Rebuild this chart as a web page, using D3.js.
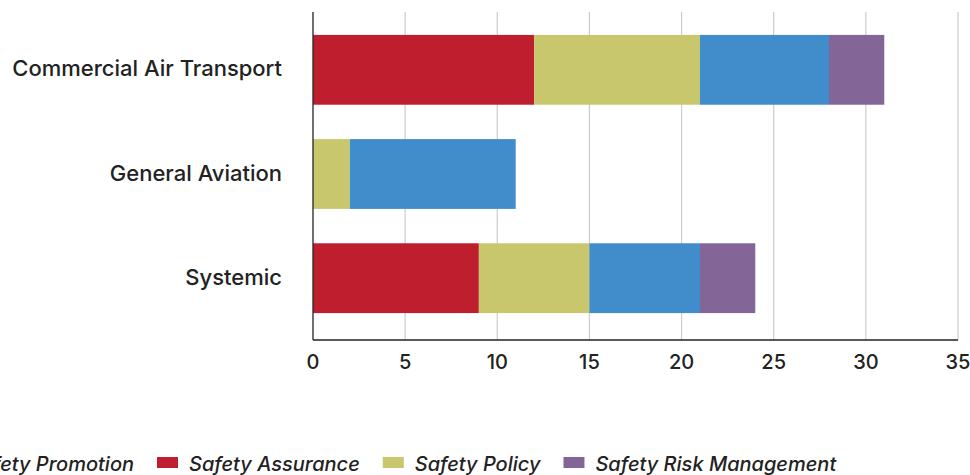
<!DOCTYPE html>
<html>
<head>
<meta charset="utf-8">
<script src="https://cdn.jsdelivr.net/npm/d3@7"></script>
<style>
  body { margin: 0; background: #fff; }
  text { font-family: Inter, "Noto Sans", sans-serif; font-weight: 500; }
</style>
</head>
<body>
<script>
const width = 970, height = 475

const categories = ["Commercial Air Transport", "General Aviation", "Systemic"]
const stackKeys = ["Safety Assurance", "Safety Policy", "Safety Promotion", "Safety Risk Management"]
const legendKeys = ["Safety Promotion", "Safety Assurance", "Safety Policy", "Safety Risk Management"]
const safetyAssurance = [12, 0, 9]
const safetyPolicy = [9, 2, 6]
const safetyPromotion = [7, 9, 6]
const safetyRiskManagement = [3, 0, 3]
const xTicks = [0, 5, 10, 15, 20, 25, 30, 35]

const colors = {
    "Safety Assurance": "#be1e2d",
    "Safety Policy": "#c8c76d",
    "Safety Promotion": "#418dcb",
    "Safety Risk Management": "#836597"
}

// build table for d3.stack
const table = categories.map((c, i) => ({
    category: c,
    "Safety Assurance": safetyAssurance[i],
    "Safety Policy": safetyPolicy[i],
    "Safety Promotion": safetyPromotion[i],
    "Safety Risk Management": safetyRiskManagement[i]
}))

const series = d3.stack().keys(stackKeys)(table)

let svg = d3.select("body")
    .append("svg")
    .attr("width", width)
    .attr("height", height)

const plotTop = 12, axisY = 340

const x = d3.scaleLinear().domain([0, 35]).range([313, 958])
const y = d3.scaleBand().domain(categories).range([plotTop, 336])
    .paddingInner(0.33).paddingOuter(0.22)

// grid
svg.append("g")
    .selectAll("line")
    .data(xTicks.slice(1))
    .join("line")
    .attr("x1", d => x(d)).attr("x2", d => x(d))
    .attr("y1", plotTop).attr("y2", axisY)
    .attr("stroke", "#cccccc")
    .attr("stroke-width", 1.2)

// bars
svg.append("g")
    .selectAll("g")
    .data(series)
    .join("g")
    .attr("fill", d => colors[d.key])
    .selectAll("rect")
    .data(d => d)
    .join("rect")
    .attr("x", d => x(d[0]))
    .attr("y", d => y(d.data.category))
    .attr("width", d => x(d[1]) - x(d[0]))
    .attr("height", y.bandwidth())

// axes lines
svg.append("line")
    .attr("x1", x(0)).attr("x2", x(0))
    .attr("y1", plotTop).attr("y2", axisY)
    .attr("stroke", "#222").attr("stroke-width", 1.3)
svg.append("line")
    .attr("x1", x(0)).attr("x2", x(35))
    .attr("y1", axisY).attr("y2", axisY)
    .attr("stroke", "#222").attr("stroke-width", 1.3)

// tick labels
svg.append("g")
    .selectAll("text")
    .data(xTicks)
    .join("text")
    .attr("x", d => x(d))
    .attr("y", 369)
    .attr("text-anchor", "middle")
    .attr("fill", "#222")
    .attr("font-size", 20)
    .text(d => d)

// category labels
svg.append("g")
    .selectAll("text")
    .data(categories)
    .join("text")
    .attr("x", 282)
    .attr("y", d => y(d) + y.bandwidth() / 2)
    .attr("dy", "0.3em")
    .attr("text-anchor", "end")
    .attr("fill", "#222")
    .attr("font-size", 22)
    .text(d => d)

// legend: first item runs off the left edge, as in the original
const legend = svg.append("g")
const items = legendKeys.map(k => {
    let g = legend.append("g")
    g.append("rect")
        .attr("y", 457)
        .attr("width", 21).attr("height", 11)
        .attr("fill", colors[k])
    let t = g.append("text")
        .attr("x", 32).attr("y", 471)
        .attr("font-size", 20)
        .attr("font-style", "italic")
        .attr("fill", "#222")
        .text(k)
    return { g: g, w: 32 + t.node().getComputedTextLength() + 23 }
})
let lx = 157 - items[0].w
items.forEach(it => {
    it.g.attr("transform", `translate(${lx},0)`)
    lx += it.w
})
</script>
</body>
</html>
